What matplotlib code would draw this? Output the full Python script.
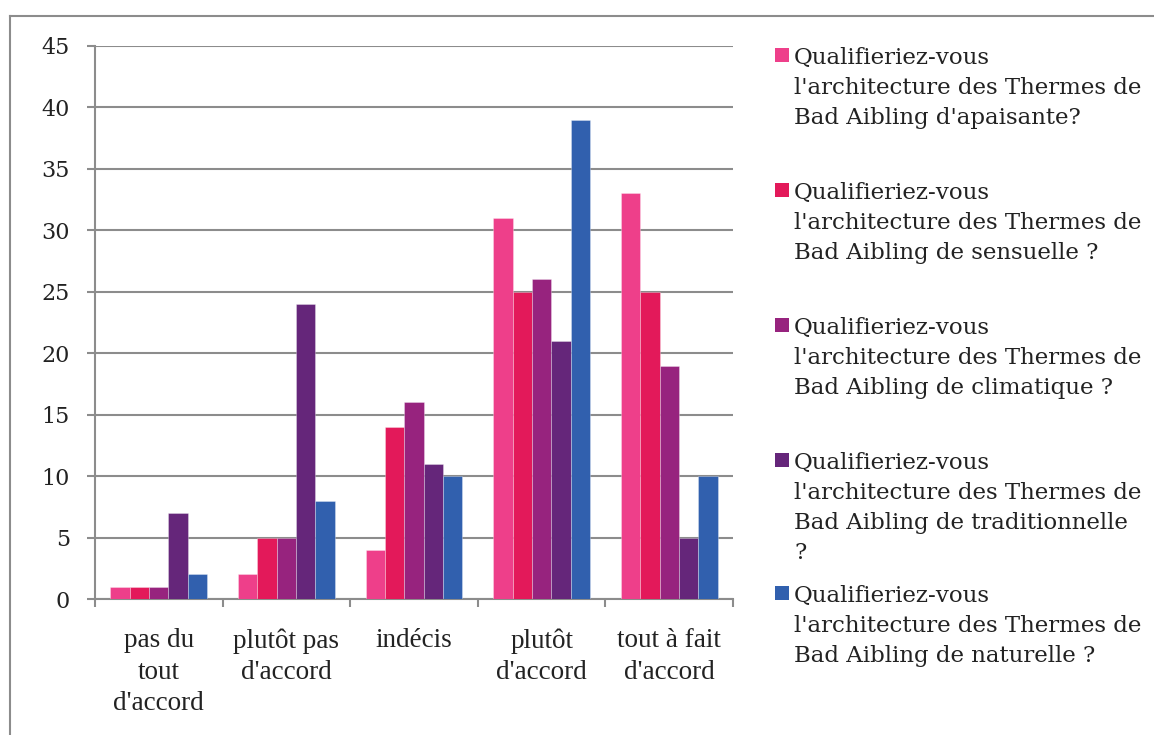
import matplotlib
matplotlib.use("Agg")
import matplotlib.pyplot as plt
from matplotlib.patches import Rectangle
from matplotlib.lines import Line2D
import numpy as np

categories = ["pas du\ntout\nd'accord", "plutôt pas\nd'accord", "indécis", "plutôt\nd'accord", "tout à fait\nd'accord"]
series_labels = [
    "Qualifieriez-vous\nl'architecture des Thermes de\nBad Aibling d'apaisante?",
    "Qualifieriez-vous\nl'architecture des Thermes de\nBad Aibling de sensuelle ?",
    "Qualifieriez-vous\nl'architecture des Thermes de\nBad Aibling de climatique ?",
    "Qualifieriez-vous\nl'architecture des Thermes de\nBad Aibling de traditionnelle\n?",
    "Qualifieriez-vous\nl'architecture des Thermes de\nBad Aibling de naturelle ?",
]
apaisante = [1, 2, 4, 31, 33]
sensuelle = [1, 5, 14, 25, 25]
climatique = [1, 5, 16, 26, 19]
traditionnelle = [7, 24, 11, 21, 5]
naturelle = [2, 8, 10, 39, 10]
series = [apaisante, sensuelle, climatique, traditionnelle, naturelle]
colors = ["#EE3F8A", "#E3195A", "#97237E", "#65267A", "#3160AE"]
yticks = [0, 5, 10, 15, 20, 25, 30, 35, 40, 45]

W, H = 1154, 735
fig = plt.figure(figsize=(W / 100, H / 100), dpi=100)
fig.patch.set_facecolor("white")

# outer chart frame (left and top visible)
grid_col = "#8C8C8C"
fig.add_artist(Line2D([10 / W, 10 / W], [0, 1 - 16 / H], transform=fig.transFigure, color=grid_col, lw=1.5))
fig.add_artist(Line2D([10 / W, 1.01], [1 - 16 / H, 1 - 16 / H], transform=fig.transFigure, color=grid_col, lw=1.5))

ax = fig.add_axes([95 / W, 1 - 599 / H, (733 - 95) / W, (599 - 46) / H])
n = len(categories)
x = np.arange(n)
bw = 0.152
for i, (vals, c) in enumerate(zip(series, colors)):
    ax.bar(x + (i - 2) * bw, vals, width=bw, color=c, edgecolor=(1, 1, 1, 0.35), linewidth=0.6, zorder=3)

ax.set_xlim(-0.5, n - 0.5)
ax.set_ylim(0, 45)
ax.set_yticks(yticks)
ax.set_yticklabels([str(v) for v in yticks], family="DejaVu Serif", fontsize=16, color="#222222")
ax.yaxis.grid(True, color=grid_col, lw=1.5, zorder=0)
ax.set_axisbelow(True)
for s in ["top", "right"]:
    ax.spines[s].set_visible(False)
for s in ["left", "bottom"]:
    ax.spines[s].set_color(grid_col)
    ax.spines[s].set_linewidth(1.5)
ax.tick_params(axis="y", length=6, width=1.5, color=grid_col, pad=12)
ax.set_xticks(np.arange(n + 1) - 0.5, minor=False)
ax.set_xticklabels([""] * (n + 1))
ax.tick_params(axis="x", length=6, width=1.5, color=grid_col)
for i, lab in enumerate(categories):
    ax.text(i, -2.4, lab, ha="center", va="top", family="Liberation Serif", fontsize=19.5,
            color="#222222", linespacing=1.32, transform=ax.transData)

# legend
ys = [55, 190, 325, 460, 593]
for lab, c, yc in zip(series_labels, colors, ys):
    fig.add_artist(Rectangle((775 / W, 1 - (yc + 7) / H), 14 / W, 14 / H, transform=fig.transFigure,
                             facecolor=c, edgecolor="none"))
    fig.text(794 / W, 1 - (yc - 8) / H, lab, ha="left", va="top", family="DejaVu Serif", fontsize=16.5,
             color="#222222", linespacing=1.48)

fig.savefig("out.png", dpi=100)
